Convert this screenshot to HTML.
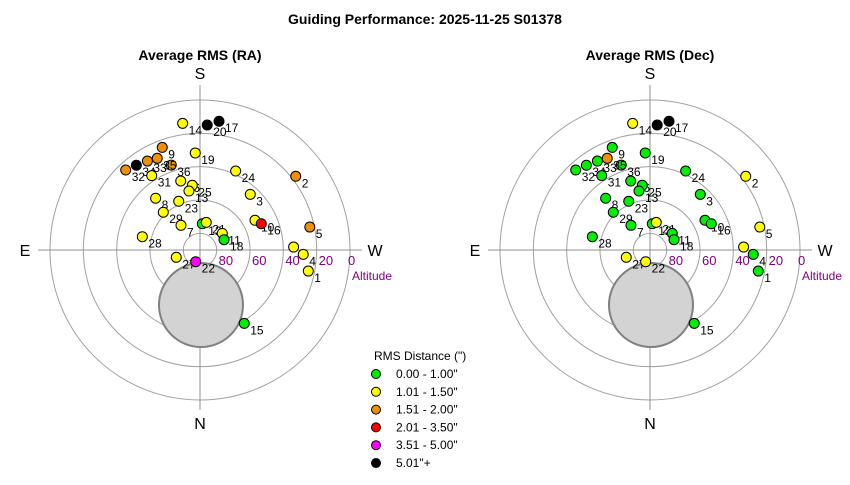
<!DOCTYPE html>
<html><head><meta charset="utf-8"><style>
body{margin:0;background:#fff;}
svg text{font-family:"Liberation Sans",Arial,sans-serif;}
</style></head><body>
<svg id="chart" width="850" height="480" viewBox="0 0 850 480">
<text x="425" y="24" text-anchor="middle" font-size="14" font-weight="bold">Guiding Performance: 2025-11-25 S01378</text>
<g id="plots"></g>
<g id="legend"></g>
</svg>
<script>
const ids   = [14,20,17,9,19,36,35,33,34,32,31,26,25,13,24,2,3,8,23,29,7,28,12,21,11,18,10,16,5,6,4,1,27,22,15];
const alts  = [13.3,14.9,11.9,24.4,31.7,36.2,29.3,28,26.4,24.5,36.8,47,50.9,54,38,17.5,45,49.1,58.1,58.4,71.3,54.5,74.2,73,73.3,74.3,52.5,50,22.7,33.8,28,23.8,75.1,82.5,38.6];
const azs   = [172.2,183.3,188.4,159.8,177.2,161.3,155,149.4,143.1,137.1,147,164.4,173.2,169.4,204.3,232.4,222.1,139.4,156.4,135.8,142.4,103,185,192.8,233.2,246.8,241.6,246.8,258.2,268.2,272.4,281,72.9,20.2,328.9];
const rmsRA = [1.3,6,6,1.8,1.3,1.8,1.8,1.8,6,1.8,1.3,1.3,1.3,1.3,1.3,1.8,1.3,1.3,1.3,1.3,1.3,1.3,0.8,1.3,1.3,0.8,1.3,2.5,1.8,1.3,1.3,1.3,1.3,4,0.8];
const rmsDec= [1.3,6,6,0.8,0.8,0.8,1.8,0.8,0.8,0.8,0.8,0.8,0.8,0.8,0.8,1.3,0.8,0.8,0.8,0.8,0.8,0.8,0.8,1.3,0.8,0.8,0.8,0.8,1.3,1.3,0.8,0.8,1.3,1.3,0.8];
const ringAlts = [0,20,40,60,80];
const binLabels = ['0.00 - 1.00"','1.01 - 1.50"','1.51 - 2.00"','2.01 - 3.50"','3.51 - 5.00"','5.01"+'];
const binMax = [1.0,1.5,2.0,3.5,5.0,Infinity];
const binColors = ['#00ee00','#ffff00','#ee9000','#ff0000','#ff00ff','#000000'];

const NS='http://www.w3.org/2000/svg';
function mk(tag, attrs, parent, txt){const e=document.createElementNS(NS,tag);for(const k in attrs)e.setAttribute(k,attrs[k]);if(txt!==undefined)e.textContent=txt;parent.appendChild(e);return e;}
const R=150;
function rScale(alt){return R*(90-alt)/90;}
function polar(cx,cy,alt,az){const r=rScale(alt),a=az*Math.PI/180;return [cx-r*Math.sin(a), cy+r*Math.cos(a)];}
function colorOf(v){for(let i=0;i<binMax.length;i++) if(v<=binMax[i]) return binColors[i]; return '#000';}

function drawPlot(cx,cy,title,vals,key){
  const g=mk('g',{},document.getElementById('plots'));
  
  
  const t=mk('text',{x:cx,y:60,'text-anchor':'middle','font-size':14,'font-weight':'bold'},g,title);
  
  
  ringAlts.forEach(a=>{
    const c=mk('circle',{cx:cx,cy:cy,r:rScale(a),fill:'none',stroke:'#a0a0a0','stroke-width':1},g);
    
    
  });
  const ax1=mk('line',{x1:cx,y1:85,x2:cx,y2:410,stroke:'#909090'},g);
  
  
  const ax2=mk('line',{x1:cx-162,y1:cy,x2:cx+162,y2:cy,stroke:'#909090'},g);
  
  
  const ex=mk('circle',{cx:cx+1,cy:cy+55,r:42,fill:'#d3d3d3',stroke:'#808080','stroke-width':2},g);
  
  
  [['S',cx,79],['N',cx,429],['E',cx-175,256],['W',cx+175,256]].forEach(d=>{
    const l=mk('text',{x:d[1],y:d[2],'text-anchor':'middle','font-size':16},g,d[0]);
    
    
  });
  ringAlts.forEach(a=>{
    const l=mk('text',{x:cx+rScale(a)+ (a===0?-2:2),y:cy+15,'font-size':13,fill:'#800080'},g,String(a));
    
    
  });
  const al=mk('text',{x:cx+152,y:cy+30,'font-size':12,fill:'#800080'},g,'Altitude');
  
  
  ids.forEach((id,i)=>{
    const p=polar(cx,cy,alts[i],azs[i]);
    const c=mk('circle',{cx:p[0],cy:p[1],r:5,fill:colorOf(vals[i]),stroke:'#000','stroke-width':1},g);
    
    
    const l=mk('text',{x:p[0]+6,y:p[1]+11,'font-size':12},g,String(id));
    
    
  });
}
drawPlot(200,250,'Average RMS (RA)',rmsRA,'ra');
drawPlot(650,250,'Average RMS (Dec)',rmsDec,'dec');

const lg=document.getElementById('legend');
const lt=mk('text',{x:374,y:360,'font-size':12},lg,'RMS Distance (")');


binLabels.forEach((lab,i)=>{
  const y=374+i*17.8;
  const c=mk('circle',{cx:376,cy:y,r:4.5,fill:binColors[i],stroke:'#000'},lg);
  
  
  const t=mk('text',{x:396,y:y+4,'font-size':12},lg,lab);
  
  
});
</script>
</body></html>
